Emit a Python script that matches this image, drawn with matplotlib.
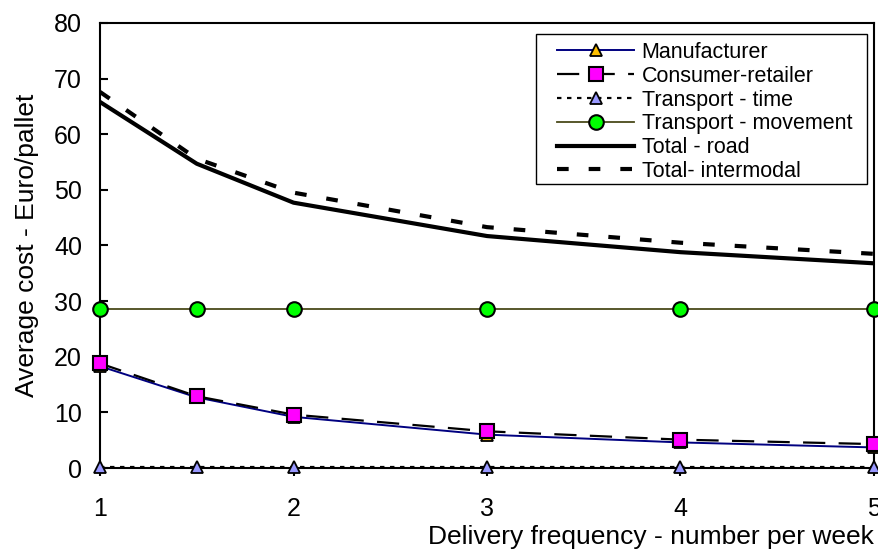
import matplotlib
matplotlib.use("Agg")
import matplotlib.pyplot as plt
from matplotlib.patches import Rectangle

plt.rcParams['font.family'] = ['Liberation Sans', 'DejaVu Sans']

freq = [1, 1.5, 2, 3, 4, 5]
manufacturer = [18.3, 12.7, 9.2, 6.0, 4.6, 3.7]
consumer_retailer = [18.8, 12.9, 9.6, 6.6, 5.1, 4.3]
transport_time = [0.2, 0.2, 0.2, 0.2, 0.2, 0.2]
transport_movement = [28.6, 28.6, 28.6, 28.6, 28.6, 28.6]
total_road = [65.8, 54.7, 47.7, 41.7, 38.8, 36.8]
total_intermodal = [67.6, 55.6, 49.5, 43.3, 40.5, 38.5]

W, H = 879, 551
fig = plt.figure(figsize=(W / 100, H / 100), dpi=100)
ax = fig.add_axes([0.1138, 0.1506, 0.8805, 0.8077])

ax.plot(freq, manufacturer, color='#000080', lw=1.4, marker='^', ms=9,
        mfc='#FFC000', mec='black', mew=1.3, label='Manufacturer', clip_on=False, zorder=4)
ax.plot(freq, consumer_retailer, color='black', lw=1.6, ls=(0, (10, 6)), marker='s', ms=10,
        mfc='#FF00FF', mec='black', mew=1.5, label='Consumer-retailer', clip_on=False, zorder=5)
ax.plot(freq, transport_time, color='black', lw=1.6, ls=(0, (2, 2.5)), marker='^', ms=8,
        mfc='#9999FF', mec='black', mew=1.3, label='Transport - time', clip_on=False, zorder=4)
ax.plot(freq, transport_movement, color='#4a4a1a', lw=1.3, marker='o', ms=10.5,
        mfc='#00FF00', mec='black', mew=1.5, label='Transport - movement', clip_on=False, zorder=4)
ax.plot(freq, total_road, color='black', lw=3, label='Total - road', zorder=3)
ax.plot(freq, total_intermodal, color='black', lw=3, ls=(0, (2.8, 4.8)),
        label='Total- intermodal', zorder=3)

ax.set_xlim(1, 5)
ax.set_ylim(0, 80)
ax.set_xticks([1, 2, 3, 4, 5])
ax.set_yticks(range(0, 81, 10))
ax.tick_params(axis='y', direction='in', length=6, width=1.5, labelsize=18, pad=13)
ax.tick_params(axis='x', direction='out', length=6, width=1.5, labelsize=18, pad=15)
for s in ax.spines.values():
    s.set_linewidth(1.5)

ax.set_ylabel('Average cost - Euro/pallet', fontsize=19, labelpad=11)
ax.set_xlabel('Delivery frequency - number per week', fontsize=19, loc='right', labelpad=3)

# legend box drawn separately so its padding can match the original
box = Rectangle((536 / W, 1 - 184 / H), 331 / W, 150 / H, transform=fig.transFigure,
                facecolor='white', edgecolor='black', lw=1.0, zorder=6, clip_on=False)
ax.add_patch(box)
leg = ax.legend(loc='upper left', bbox_to_anchor=(557 / W, 1 - 42 / H),
                bbox_transform=fig.transFigure, fontsize=15.5,
                handlelength=3.6, handletextpad=0.33, labelspacing=0.13,
                borderpad=0, borderaxespad=0, frameon=False)
leg.set_zorder(7)

fig.savefig('out.png', dpi=100)
